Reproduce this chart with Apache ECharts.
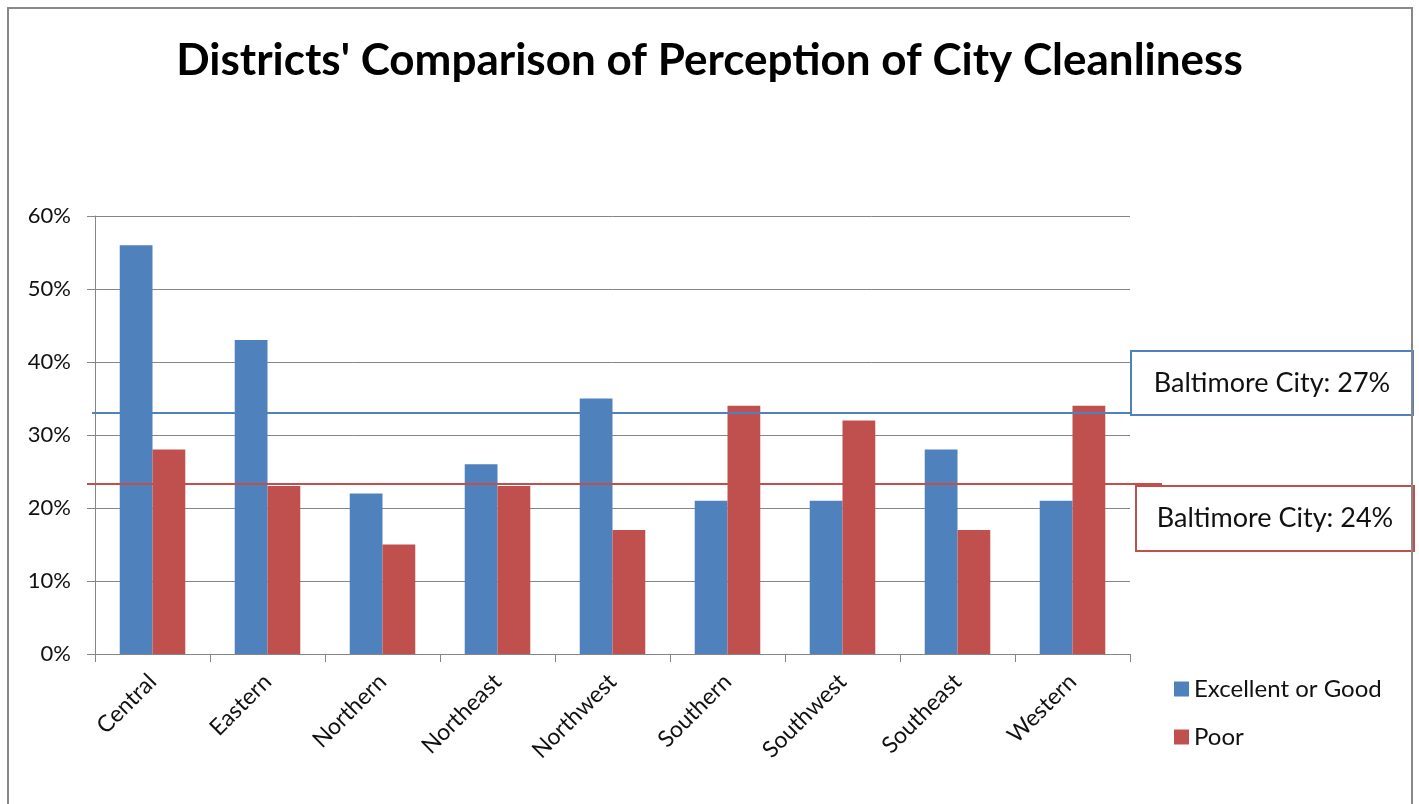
<!DOCTYPE html>
<html>
<head>
<meta charset="utf-8">
<script src="https://cdn.jsdelivr.net/npm/echarts@6/dist/echarts.min.js"></script>
<style>
	html, body { margin: 0; padding: 0; background: #fff; }
	#chart { width: 1419px; height: 804px; }
</style>
</head>
<body>
<div id="chart"></div>
<script>
// data
const districts = ['Central', 'Eastern', 'Northern', 'Northeast', 'Northwest', 'Southern', 'Southwest', 'Southeast', 'Western'];
const excellentOrGood = [56, 43, 22, 26, 35, 21, 21, 28, 21];
const poor = [28, 23, 15, 23, 17, 34, 32, 17, 34];
const seriesNames = ['Excellent or Good', 'Poor'];
const yTicks = [0, 10, 20, 30, 40, 50, 60];
// the city-wide lines sit where the picture draws them, labels keep their own text
const cityLineLevels = [33, 23.3];
const cityLabels = ['Baltimore City: 27%', 'Baltimore City: 24%'];

const BLUE = '#4F81BD';
const RED = '#C0504D';
const FONT = 'Lato';
const TEXT = '#111';

let chart = echarts.init(document.getElementById('chart'));

function cityLine(level, color, x0, x1)
{
	return {
		silent: true,
		symbol: 'none',
		label: { show: false },
		lineStyle: { color: color, width: 2, type: 'solid' },
		data: [[
			{ x: x0, xAxis: 0, yAxis: level },
			{ x: x1, xAxis: 0, yAxis: level }
		]]
	};
}

function labelBox(left, top, w, h, color, text)
{
	return {
		type: 'group',
		left: left,
		top: top,
		children: [
			{
				type: 'rect',
				shape: { x: 0, y: 0, width: w, height: h },
				style: { fill: '#fff', stroke: color, lineWidth: 2 }
			},
			{
				type: 'text',
				x: w / 2,
				y: h / 2,
				style: {
					text: text,
					fill: TEXT,
					font: '27px ' + FONT,
					textAlign: 'center',
					textVerticalAlign: 'middle'
				}
			}
		]
	};
}

let option = {
	animation: false,
	backgroundColor: '#fff',
	title: {
		text: "Districts' Comparison of Perception of City Cleanliness",
		left: 'center',
		top: 34,
		textStyle: { fontFamily: FONT, fontWeight: 'bold', fontSize: 44, color: '#000' }
	},
	legend: {
		orient: 'vertical',
		left: 1169,
		top: 672,
		itemWidth: 15,
		itemHeight: 15,
		itemGap: 24,
		icon: 'rect',
		data: seriesNames,
		textStyle: { fontFamily: FONT, fontSize: 24, color: TEXT }
	},
	grid: { left: 95, right: 289, top: 216, bottom: 150 },
	xAxis: {
		type: 'category',
		data: districts,
		axisLine: { lineStyle: { color: '#868686' } },
		axisTick: { show: true, length: 8, lineStyle: { color: '#868686' } },
		axisLabel: { rotate: 45, fontFamily: FONT, fontSize: 23, color: TEXT, margin: 24 }
	},
	yAxis: {
		type: 'value',
		min: yTicks[0],
		max: yTicks[yTicks.length - 1],
		interval: 10,
		axisLine: { show: true, lineStyle: { color: '#868686' } },
		axisTick: { show: true, length: 8, lineStyle: { color: '#868686' } },
		splitLine: { lineStyle: { color: '#868686' } },
		axisLabel: { formatter: '{value}%', fontFamily: FONT, fontSize: 22, color: TEXT, margin: 24 }
	},
	series: [
		{
			name: seriesNames[0],
			type: 'bar',
			data: excellentOrGood,
			itemStyle: { color: BLUE },
			barGap: '0%',
			barCategoryGap: '43%',
			markLine: cityLine(cityLineLevels[0], BLUE, 92, 1130)
		},
		{
			name: seriesNames[1],
			type: 'bar',
			data: poor,
			itemStyle: { color: RED },
			markLine: cityLine(cityLineLevels[1], RED, 87, 1162)
		}
	],
	graphic: [
		{
			type: 'rect',
			shape: { x: 8, y: 8, width: 1404, height: 820 },
			style: { fill: 'none', stroke: '#888', lineWidth: 2 },
			z: 100
		},
		labelBox(1130, 350, 282, 64, BLUE, cityLabels[0]),
		labelBox(1135, 485, 278, 65, RED, cityLabels[1])
	]
};

chart.setOption(option);
</script>
</body>
</html>
